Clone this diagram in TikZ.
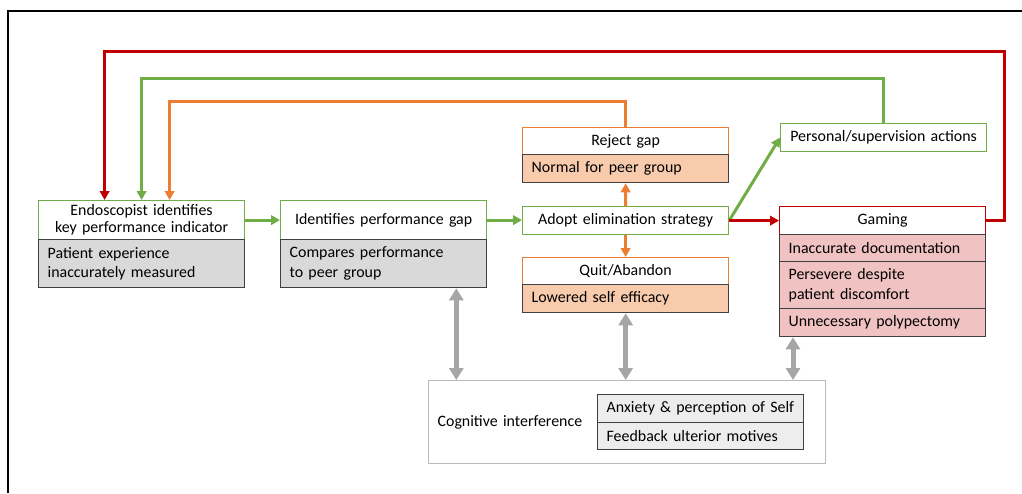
\documentclass[tikz,border=0pt]{standalone}
\usepackage{fontspec}
\setmainfont{Carlito}
\usepackage{tikz}
\usetikzlibrary{arrows.meta}

\definecolor{grn}{HTML}{70AD47}
\definecolor{org}{HTML}{ED7D31}
\definecolor{rd}{HTML}{C00000}
\definecolor{gry}{HTML}{A6A6A6}
\definecolor{grayfill}{HTML}{D9D9D9}
\definecolor{orgfill}{HTML}{F8CBAD}
\definecolor{redfill}{HTML}{F0C2C2}
\definecolor{cogfill}{HTML}{EDEDED}

\begin{document}
\begin{tikzpicture}[x = 1pt, y = -1pt,
  head/.style = {draw = #1, fill = white, shape = rectangle, line width = 1.2pt, anchor = north west, minimum width = 206pt, text width = 190pt, inner xsep = 8pt, inner ysep = 0pt, align = center, font = \fontsize{15.9}{17}\selectfont},
  body/.style = {draw = black!75, fill = #1, shape = rectangle, line width = 1.3pt, anchor = north west, minimum width = 206pt, text width = 188pt, inner xsep = 9pt, inner ysep = 0pt, align = left, font = \fontsize{15.9}{19.5}\selectfont},
  link/.style = {draw = #1, line width = 3pt, -{Triangle[length = 9pt, width = 9.5pt]}},
  both/.style = {draw = gry, line width = 5pt, {Triangle[length = 12pt, width = 14pt]}-{Triangle[length = 12pt, width = 14pt]}}]
\useasboundingbox (0,0) rectangle (1022,493);
\draw[line width = 1.3pt] (8,493) -- (8,11) -- (1022,11);

\node[head = grn, minimum height = 39pt] (1) at (38,200) {Endoscopist identifies\\key performance indicator};
\node[body = grayfill, minimum height = 48pt] (2) at (38,239) {Patient experience\\inaccurately measured};
\node[head = grn, minimum height = 39pt] (3) at (280,200) {Identifies performance gap};
\node[body = grayfill, minimum height = 48pt] (4) at (280,239) {Compares performance\\to peer group};
\node[head = grn, minimum height = 28pt] (5) at (522,206) {Adopt elimination strategy};
\node[head = org, minimum height = 27pt] (6) at (522,127) {Reject gap};
\node[body = orgfill, minimum height = 28pt] (7) at (522,154) {Normal for peer group};
\node[head = org, minimum height = 27pt] (8) at (522,257) {Quit/Abandon};
\node[body = orgfill, minimum height = 28pt] (9) at (522,284) {Lowered self efficacy};
\node[head = grn, minimum height = 28pt] (10) at (780,123) {Personal/supervision actions};
\node[head = rd, minimum height = 28pt] (11) at (779,206) {Gaming};
\node[body = redfill, minimum height = 27pt] (12) at (779,234) {Inaccurate documentation};
\node[body = redfill, minimum height = 47pt] (13) at (779,261) {Persevere despite\\patient discomfort};
\node[body = redfill, minimum height = 28pt] (14) at (779,308) {Unnecessary polypectomy};
\node[body = white, draw = black!27, minimum width = 397pt, text width = 379pt, minimum height = 83pt] (15) at (428,380) {Cognitive interference};
\node[body = cogfill, minimum height = 28pt] (16) at (597,394) {Anxiety \& perception of Self};
\node[body = cogfill, minimum height = 27pt] (17) at (597,422) {Feedback ulterior motives};

% forward steps
\draw[link = grn] (1.east) -- (3.west);
\draw[link = grn] (3.east) -- (3.east -| 5.west);
\draw[link = org] (5.north) -- (7.south);
\draw[link = org] (5.south) -- (8.north);
\draw[link = grn] (5.east) -- (10.west);
\draw[link = rd] (5.east) -- (11.west);

% loops back to the indicator
\coordinate (r1) at ([xshift = -37pt]1.north);
\coordinate (o1) at ([xshift = 28pt]1.north);
\draw[link = rd] (11.east) -| (1004,51) -| (r1);
\draw[link = grn] (10.north) |- (1.north |- 0,78) -- (1.north);
\draw[link = org] (6.north) |- (o1 |- 0,101) -- (o1);

% cognitive interference
\coordinate (g1) at ([xshift = -31pt]4.south east);
\coordinate (g2) at ([xshift = 14pt]14.south west);
\draw[both] (g1) -- (g1 |- 15.north);
\draw[both] (9.south) -- (9.south |- 15.north);
\draw[both] (g2) -- (g2 |- 15.north);
\end{tikzpicture}
\end{document}
